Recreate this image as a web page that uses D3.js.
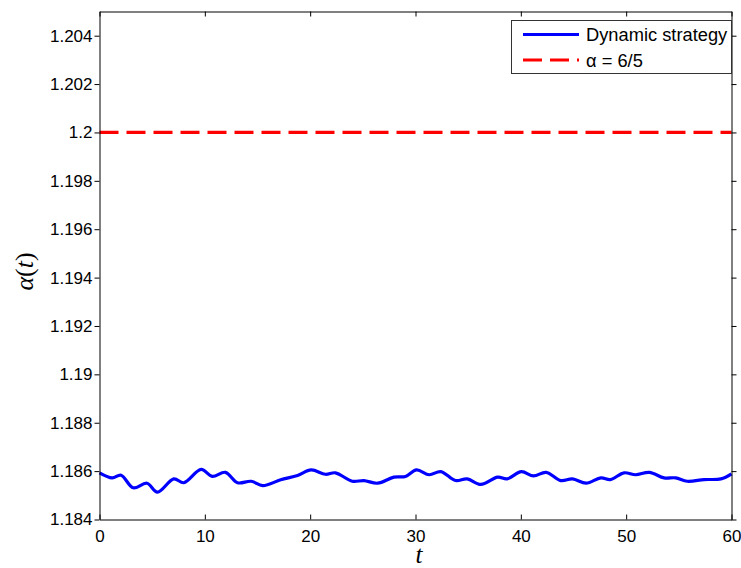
<!DOCTYPE html>
<html>
<head>
<meta charset="utf-8">
<script src="https://cdn.jsdelivr.net/npm/d3@7"></script>
<style>
  body { margin: 0; background: #fff; }
  svg { display: block; }
</style>
</head>
<body>
<main></main>
<script>
// data
const tValues = [0, 1.2, 2.05, 3.2, 4.5, 5.5, 7.05, 8.0, 9.65, 10.7, 11.95, 13.1, 14.4, 15.5, 17.2, 18.8,
  20.1, 21.45, 22.4, 24.0, 25.1, 26.4, 27.95, 29.05, 30.1, 31.3, 32.4, 33.8, 34.9, 36.2, 37.8, 38.7,
  40.05, 41.2, 42.4, 43.8, 44.9, 46.2, 47.6, 48.5, 49.8, 50.9, 52.2, 53.6, 54.7, 55.8, 57.4, 59.0, 60];
const alphaValues = [1.18593, 1.18572, 1.18583, 1.18531, 1.1855, 1.18513, 1.18568, 1.18552, 1.18607, 1.18578,
  1.18595, 1.18552, 1.18558, 1.1854, 1.18564, 1.18582, 1.18605, 1.18587, 1.18593, 1.18558, 1.18561, 1.1855,
  1.18575, 1.18578, 1.18605, 1.18585, 1.18598, 1.18561, 1.18568, 1.18545, 1.18575, 1.18568, 1.18598, 1.1858,
  1.18595, 1.18561, 1.18568, 1.1855, 1.18572, 1.18565, 1.18593, 1.18585, 1.18595, 1.18572, 1.18572, 1.18558,
  1.18565, 1.18568, 1.18589];
const referenceAlpha = 6 / 5;
const xTicks = [0, 10, 20, 30, 40, 50, 60];
const yTicks = [1.184, 1.186, 1.188, 1.19, 1.192, 1.194, 1.196, 1.198, 1.2, 1.202, 1.204];
const legendLabels = ['Dynamic strategy', 'α = 6/5'];

// dimensions
const width = 741;
const height = 568;
const plotLeft = 99.5;
const plotRight = 731.5;
const plotTop = 11.5;
const plotBottom = 519.5;
const tickLength = 5;
const fontFamily = '"Liberation Sans", Arial, Helvetica, sans-serif';
const mathFamily = '"Liberation Serif", "DejaVu Serif", serif';

const svg = d3.select('main')
  .append('svg')
  .attr('width', width)
  .attr('height', height);

const xScale = d3.scaleLinear()
  .domain([0, 60])
  .range([plotLeft, plotRight]);

const yScale = d3.scaleLinear()
  .domain([1.184, 1.205])
  .range([plotBottom, plotTop]);

// reference line
svg.append('line')
  .attr('x1', xScale(0))
  .attr('x2', xScale(60))
  .attr('y1', yScale(referenceAlpha))
  .attr('y2', yScale(referenceAlpha))
  .attr('stroke', '#ff0000')
  .attr('stroke-width', 3.2)
  .attr('stroke-dasharray', '19 8');

// dynamic strategy curve
const line = d3.line()
  .x((d, i) => xScale(tValues[i]))
  .y(d => yScale(d))
  .curve(d3.curveCatmullRom);

svg.append('path')
  .datum(alphaValues)
  .attr('d', line)
  .attr('fill', 'none')
  .attr('stroke', '#0000ff')
  .attr('stroke-width', 3.2)
  .attr('stroke-linejoin', 'round');

// axes: x ticks point inward, y ticks outward
const yFormat = d => String(+d.toFixed(3));

svg.append('g')
  .attr('transform', `translate(0, ${plotBottom})`)
  .call(d3.axisBottom(xScale).tickValues(xTicks).tickSize(-tickLength).tickPadding(tickLength + 5).tickSizeOuter(0));

svg.append('g')
  .attr('transform', `translate(0, ${plotTop})`)
  .call(d3.axisTop(xScale).tickValues(xTicks).tickSize(-tickLength).tickSizeOuter(0).tickFormat(''));

svg.append('g')
  .attr('transform', `translate(${plotLeft}, 0)`)
  .call(d3.axisLeft(yScale).tickValues(yTicks).tickSize(tickLength).tickPadding(2).tickSizeOuter(0).tickFormat(yFormat));

svg.append('g')
  .attr('transform', `translate(${plotRight}, 0)`)
  .call(d3.axisRight(yScale).tickValues(yTicks).tickSize(tickLength).tickSizeOuter(0).tickFormat(''));

svg.selectAll('g')
  .attr('font-size', 17)
  .attr('font-family', fontFamily);

svg.selectAll('.domain, .tick line')
  .attr('stroke', '#000');

svg.selectAll('.tick text')
  .attr('fill', '#000');

// axis labels
svg.append('text')
  .attr('x', 419)
  .attr('y', 563)
  .attr('text-anchor', 'middle')
  .attr('font-family', mathFamily)
  .attr('font-style', 'italic')
  .attr('font-size', 25)
  .text('t');

const yLabel = svg.append('text')
  .attr('transform', `translate(33, ${(plotTop + plotBottom) / 2 + 6}) rotate(-90)`)
  .attr('text-anchor', 'middle')
  .attr('font-family', mathFamily)
  .attr('font-size', 26);
yLabel.append('tspan').attr('font-style', 'italic').text('α');
yLabel.append('tspan').text('(');
yLabel.append('tspan').attr('font-style', 'italic').text('t');
yLabel.append('tspan').text(')');

// legend
const legend = svg.append('g');

legend.append('rect')
  .attr('x', 511.5)
  .attr('y', 20.5)
  .attr('width', 220)
  .attr('height', 53)
  .attr('fill', '#fff')
  .attr('stroke', '#333');

const legendStyles = [
  { color: '#0000ff', dash: null },
  { color: '#ff0000', dash: '19 8' }
];

legendLabels.forEach((label, i) => {
  const rowY = 34.5 + i * 25.5;
  legend.append('line')
    .attr('x1', 523)
    .attr('x2', 579)
    .attr('y1', rowY)
    .attr('y2', rowY)
    .attr('stroke', legendStyles[i].color)
    .attr('stroke-width', 3.2)
    .attr('stroke-dasharray', legendStyles[i].dash);
  legend.append('text')
    .attr('x', 586)
    .attr('y', rowY + 6.5)
    .attr('font-family', fontFamily)
    .attr('font-size', 18.3)
    .text(label);
});
</script>
</body>
</html>
